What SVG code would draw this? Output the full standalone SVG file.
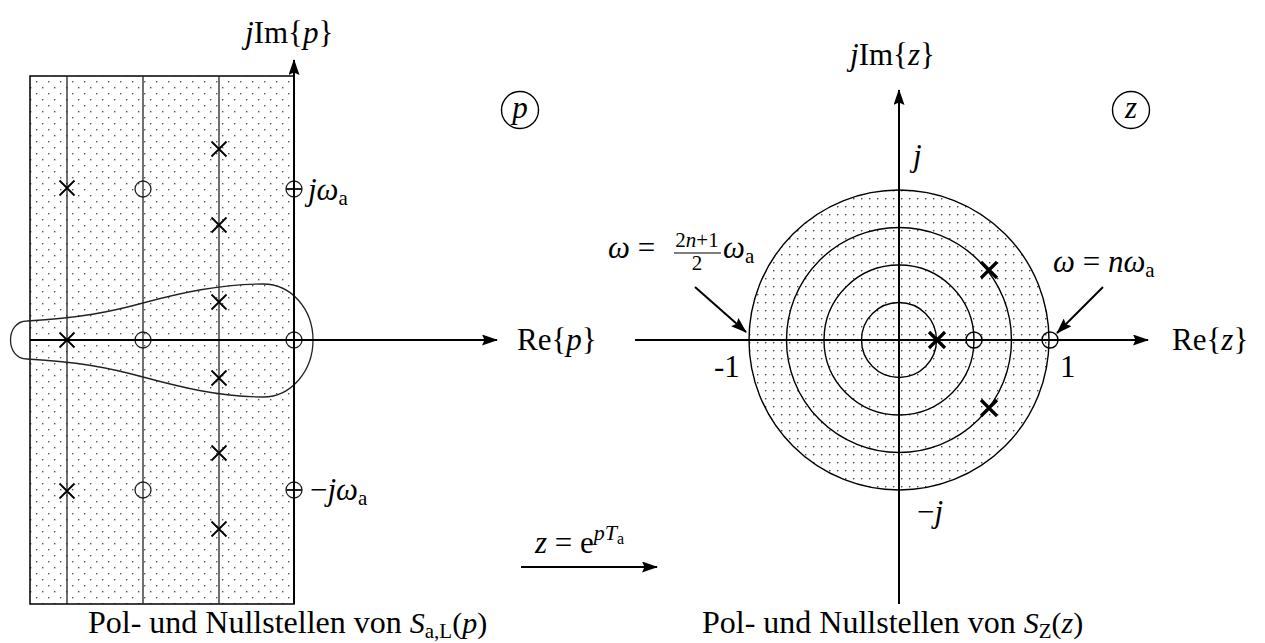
<svg xmlns="http://www.w3.org/2000/svg" width="1265" height="643" viewBox="0 0 1265 643">
<style>
.t{font-family:"Liberation Serif","Times New Roman",serif;fill:#000;font-size:31px}
.cap{font-size:32px}
.sm{font-size:21px}
.i{font-style:italic}
.sub{font-size:21px;font-style:normal}
.ax{stroke:#000;stroke-width:2;fill:none}
.grid{stroke:#222;stroke-width:1.3;fill:none}
.xp{stroke:#000;stroke-width:1.8;fill:none}
.xz{stroke:#000;stroke-width:3.2;fill:none}
.ring{stroke:#000;stroke-width:1.4;fill:none}
.dz{fill:url(#dotsZ)}
</style>
<defs>
<pattern id="dotsP" width="12" height="12" patternUnits="userSpaceOnUse" x="0" y="1">
<rect x="6" y="2" width="1.4" height="1.4" fill="#555"/>
<rect x="0" y="8" width="1.4" height="1.4" fill="#555"/>
</pattern>
<pattern id="dotsZ" width="8" height="8" patternUnits="userSpaceOnUse" x="899" y="340">
<rect x="2" y="2" width="1.4" height="1.4" fill="#444"/>
</pattern>
<marker id="ah" viewBox="0 0 16 11" refX="15" refY="5.5" markerWidth="16" markerHeight="11" markerUnits="userSpaceOnUse" orient="auto">
<path d="M0,0 L16,5.5 L0,11 L2.5,5.5 Z" fill="#000"/>
</marker>
<path id="xs" d="M-7.5,-7.5 L7.5,7.5 M-7.5,7.5 L7.5,-7.5"/>
<path id="xb" d="M-8,-8 L8,8 M-8,8 L8,-8"/>
</defs>
<rect width="1265" height="643" fill="#fff"/>

<g id="p-plane">
<rect x="30" y="76" width="264" height="528" fill="url(#dotsP)" stroke="#000" stroke-width="1.5"/>
<line class="grid" x1="67" y1="76" x2="67" y2="604"/>
<line class="grid" x1="143" y1="76" x2="143" y2="604"/>
<line class="grid" x1="219" y1="76" x2="219" y2="604"/>
<path class="grid" stroke-width="1.2" d="M27,321 C80,318 110,312 143,303 C180,293 220,284 263,284 C292,284 313,310 313,340 C313,370 292,397 263,397 C220,397 180,387 143,377 C110,368 80,362 27,359 C5,359 5,321 27,321 Z"/>
<g class="xp">
<use href="#xs" x="67" y="188"/>
<use href="#xs" x="67" y="340"/>
<use href="#xs" x="67" y="491"/>
<use href="#xs" x="219" y="149"/>
<use href="#xs" x="219" y="225"/>
<use href="#xs" x="219" y="302"/>
<use href="#xs" x="219" y="378"/>
<use href="#xs" x="219" y="453"/>
<use href="#xs" x="219" y="529"/>
</g>
<g class="grid">
<circle cx="143" cy="189" r="8"/>
<circle cx="143" cy="340" r="8"/>
<circle cx="143" cy="490" r="8"/>
<circle cx="294" cy="189" r="8"/>
<circle cx="294" cy="340" r="8"/>
<circle cx="294" cy="490" r="8"/>
<line x1="286" y1="189" x2="302" y2="189" stroke-width="2"/>
<line x1="286" y1="490" x2="302" y2="490" stroke-width="2"/>
</g>
</g>

<g id="z-plane">
<circle cx="899" cy="340" r="150" class="ring dz"/>
<circle cx="899" cy="340" r="112.5" class="ring"/>
<circle cx="899" cy="340" r="75" class="ring"/>
<circle cx="899" cy="340" r="37.5" class="ring"/>
<g class="xz">
<use href="#xb" x="937" y="340"/>
<use href="#xb" x="989" y="270"/>
<use href="#xb" x="989" y="408"/>
</g>
<circle cx="974" cy="340" r="8" class="ring"/>
<circle cx="1050" cy="340" r="8" class="ring"/>
</g>

<g id="connectors">
<line class="ax" x1="294" y1="604" x2="294" y2="60" marker-end="url(#ah)"/>
<line class="ax" x1="30" y1="340" x2="497" y2="340" marker-end="url(#ah)"/>
<line class="ax" x1="635" y1="340" x2="1148" y2="340" marker-end="url(#ah)"/>
<line class="ax" x1="899" y1="604" x2="899" y2="90" marker-end="url(#ah)"/>
<line class="ax" x1="521" y1="567" x2="657" y2="567" marker-end="url(#ah)"/>
<line class="ax" x1="695" y1="287" x2="746" y2="332" marker-end="url(#ah)"/>
<line class="ax" x1="1103" y1="287" x2="1057" y2="333" marker-end="url(#ah)"/>
</g>

<g id="labels">
<text class="t" x="245" y="43"><tspan class="i">j</tspan>Im{<tspan class="i">p</tspan>}</text>
<text class="t" x="850" y="65"><tspan class="i">j</tspan>Im{<tspan class="i">z</tspan>}</text>
<text class="t" x="517" y="350">Re{<tspan class="i">p</tspan>}</text>
<text class="t" x="1172" y="350">Re{<tspan class="i">z</tspan>}</text>
<g id="circ-p"><circle cx="520" cy="110" r="18.5" class="ring" stroke-width="1.6"/><text class="t i" x="520" y="118" text-anchor="middle">p</text></g>
<g id="circ-z"><circle cx="1131" cy="110" r="18.5" class="ring" stroke-width="1.6"/><text class="t i" x="1131" y="118" text-anchor="middle">z</text></g>
<text class="t" x="308" y="200"><tspan class="i">jω</tspan><tspan class="sub" dy="5">a</tspan></text>
<text class="t" x="310" y="500">−<tspan class="i">jω</tspan><tspan class="sub" dy="5">a</tspan></text>
<text class="t i" x="913" y="166">j</text>
<text class="t" x="917" y="522">−<tspan class="i">j</tspan></text>
<text class="t" x="714" y="377">-1</text>
<text class="t" x="1060" y="377">1</text>
<text class="t" x="1053" y="272"><tspan class="i">ω</tspan> = <tspan class="i">nω</tspan><tspan class="sub" dy="5">a</tspan></text>
<g id="frac-label">
<text class="t" x="608" y="258"><tspan class="i">ω</tspan> =</text>
<text class="t sm" x="697" y="247" text-anchor="middle">2<tspan class="i">n</tspan>+1</text>
<line x1="674" y1="253" x2="721" y2="253" stroke="#000" stroke-width="1"/>
<text class="t sm" x="697" y="270" text-anchor="middle">2</text>
<text class="t" x="723" y="258"><tspan class="i">ω</tspan><tspan class="sub" dy="5">a</tspan></text>
</g>
<text class="t" x="535" y="553"><tspan class="i">z</tspan> = e<tspan font-size="22" dy="-13"><tspan class="i">pT</tspan><tspan font-size="16" dy="4">a</tspan></tspan></text>
<text class="t cap" x="88" y="633">Pol- und Nullstellen von <tspan class="i" font-size="30">S</tspan><tspan class="sub" dy="5">a,L</tspan><tspan dy="-5" font-size="30">(<tspan class="i">p</tspan>)</tspan></text>
<text class="t cap" x="702" y="633">Pol- und Nullstellen von <tspan class="i" font-size="30">S</tspan><tspan class="sub" dy="5">Z</tspan><tspan dy="-5" font-size="30">(<tspan class="i">z</tspan>)</tspan></text>
</g>
</svg>
